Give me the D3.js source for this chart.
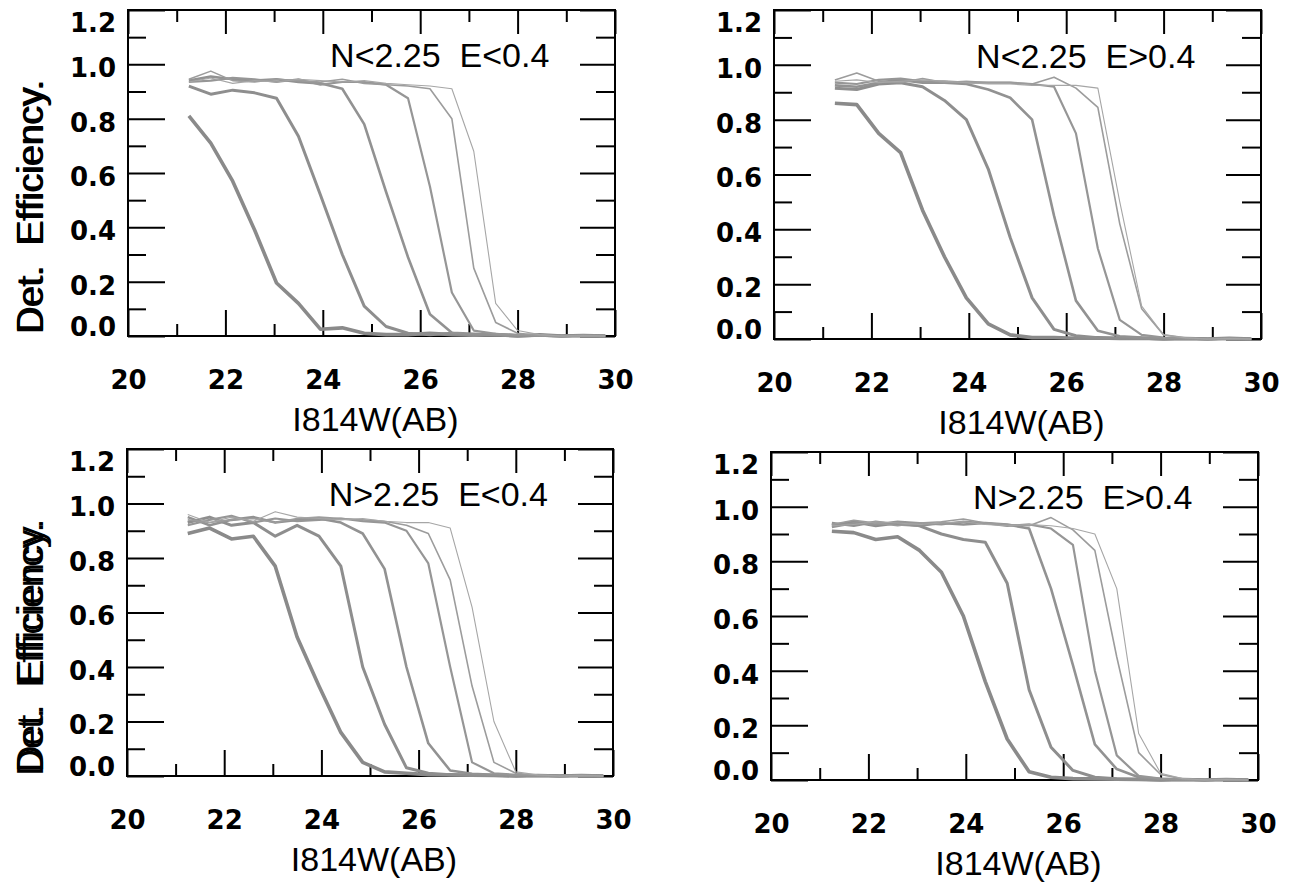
<!DOCTYPE html>
<html><head><meta charset="utf-8">
<script src="https://cdn.jsdelivr.net/npm/d3@7"></script>
<style>
body{margin:0;background:#fff;}
svg text{font-family:"Liberation Sans",Arial,Helvetica,sans-serif;fill:#000;}
.tick line{stroke:#000;stroke-width:2;}
.ticklab text{font-family:"DejaVu Sans",sans-serif;font-size:26px;font-weight:bold;}
.title{font-weight:normal;}
</style></head><body>
<svg id="chart" width="1293" height="884"></svg>
<script>
// ---------------- data ----------------
const magnitudes = [21.25, 21.7, 22.15, 22.6, 23.05, 23.5, 23.95, 24.4, 24.85, 25.3,
                    25.75, 26.2, 26.65, 27.1, 27.55, 28.0, 28.45, 28.9, 29.35, 29.8];
const panelTitles = ["N<2.25  E<0.4", "N<2.25  E>0.4", "N>2.25  E<0.4", "N>2.25  E>0.4"];
const xTickLabels = [20, 22, 24, 26, 28, 30];
const xMinorTicks = [21, 23, 25, 27, 29];
const yTickLabels = [0.0, 0.2, 0.4, 0.6, 0.8, 1.0, 1.2];
const yMinorTicks = [0.1, 0.3, 0.5, 0.7, 0.9, 1.1];
const xTitle = "I814W(AB)";
const yTitle = "Det.  Efficiency.";

// efficiency curves, one row per curve
const effNloEloA = [0.81,0.71,0.57,0.39,0.195,0.12,0.025,0.03,0.01,0.005,0.005,0.01,0.005,0.003,0.005,0.0,0.004,0.0,0.002,0.0];
const effNloEloB = [0.92,0.89,0.905,0.895,0.875,0.735,0.52,0.30,0.11,0.035,0.01,0.005,0.01,0.003,0.005,0.0,0.003,0.0,0.002,0.0];
const effNloEloC = [0.94,0.955,0.945,0.94,0.945,0.935,0.93,0.91,0.78,0.53,0.29,0.08,0.012,0.008,0.004,0.003,0.002,0.0,0.002,0.0];
const effNloEloD = [0.935,0.94,0.95,0.945,0.935,0.945,0.925,0.935,0.935,0.925,0.875,0.55,0.16,0.02,0.008,0.004,0.002,0.0,0.001,0.0];
const effNloEloE = [0.945,0.975,0.94,0.935,0.945,0.94,0.935,0.945,0.93,0.925,0.92,0.91,0.80,0.25,0.05,0.01,0.003,0.0,0.002,0.0];
const effNloEloF = [0.935,0.95,0.93,0.94,0.935,0.945,0.94,0.935,0.94,0.93,0.925,0.92,0.91,0.68,0.12,0.02,0.005,0.0,0.001,0.0];

const effNloEhiA = [0.86,0.855,0.75,0.68,0.47,0.30,0.15,0.055,0.015,0.005,0.005,0.003,0.004,0.002,0.003,0.0,0.002,0.0,0.003,0.0];
const effNloEhiB = [0.915,0.91,0.93,0.935,0.92,0.87,0.80,0.62,0.37,0.15,0.035,0.012,0.005,0.004,0.003,0.0,0.002,0.0,0.002,0.0];
const effNloEhiC = [0.925,0.92,0.935,0.945,0.935,0.935,0.93,0.91,0.88,0.80,0.45,0.14,0.03,0.01,0.005,0.003,0.002,0.0,0.002,0.0];
const effNloEhiD = [0.935,0.93,0.945,0.95,0.94,0.94,0.935,0.935,0.935,0.93,0.92,0.75,0.33,0.07,0.015,0.005,0.002,0.0,0.002,0.0];
const effNloEhiE = [0.945,0.97,0.94,0.935,0.95,0.935,0.94,0.935,0.935,0.93,0.955,0.915,0.845,0.42,0.11,0.015,0.004,0.0,0.002,0.0];
const effNloEhiF = [0.94,0.945,0.935,0.94,0.945,0.94,0.935,0.93,0.93,0.925,0.925,0.925,0.915,0.50,0.12,0.015,0.004,0.0,0.002,0.0];

const effNhiEloA = [0.89,0.91,0.87,0.88,0.77,0.51,0.33,0.16,0.05,0.015,0.01,0.005,0.004,0.003,0.002,0.0,0.002,0.0,0.002,0.0];
const effNhiEloB = [0.93,0.95,0.92,0.93,0.88,0.92,0.88,0.77,0.40,0.19,0.03,0.01,0.005,0.004,0.003,0.0,0.002,0.0,0.002,0.0];
const effNhiEloC = [0.95,0.92,0.94,0.95,0.93,0.94,0.945,0.93,0.89,0.76,0.40,0.12,0.02,0.008,0.004,0.003,0.002,0.0,0.002,0.0];
const effNhiEloD = [0.92,0.94,0.955,0.93,0.945,0.935,0.94,0.945,0.935,0.93,0.90,0.78,0.40,0.05,0.01,0.004,0.002,0.0,0.002,0.0];
const effNhiEloE = [0.94,0.93,0.94,0.945,0.93,0.945,0.95,0.945,0.94,0.935,0.92,0.89,0.72,0.33,0.05,0.01,0.003,0.0,0.002,0.0];
const effNhiEloF = [0.96,0.93,0.95,0.935,0.97,0.95,0.945,0.94,0.945,0.935,0.93,0.93,0.91,0.62,0.20,0.015,0.004,0.0,0.002,0.0];

const effNhiEhiA = [0.91,0.905,0.88,0.89,0.84,0.76,0.60,0.36,0.15,0.03,0.01,0.005,0.004,0.003,0.002,0.0,0.002,0.0,0.002,0.0];
const effNhiEhiB = [0.93,0.945,0.93,0.94,0.93,0.90,0.88,0.87,0.72,0.33,0.12,0.035,0.01,0.005,0.003,0.0,0.002,0.0,0.002,0.0];
const effNhiEhiC = [0.94,0.93,0.945,0.935,0.93,0.94,0.935,0.94,0.935,0.92,0.70,0.42,0.13,0.04,0.01,0.004,0.002,0.0,0.002,0.0];
const effNhiEhiD = [0.925,0.94,0.935,0.945,0.94,0.935,0.945,0.94,0.93,0.935,0.92,0.86,0.40,0.09,0.015,0.005,0.002,0.0,0.002,0.0];
const effNhiEhiE = [0.935,0.95,0.94,0.93,0.94,0.945,0.955,0.94,0.935,0.93,0.96,0.915,0.84,0.45,0.10,0.02,0.004,0.0,0.002,0.0];
const effNhiEhiF = [0.93,0.935,0.945,0.94,0.935,0.94,0.945,0.935,0.93,0.935,0.93,0.92,0.90,0.70,0.17,0.025,0.005,0.0,0.002,0.0];

const panelCurves = [
  [effNloEloA, effNloEloB, effNloEloC, effNloEloD, effNloEloE, effNloEloF],
  [effNloEhiA, effNloEhiB, effNloEhiC, effNloEhiD, effNloEhiE, effNloEhiF],
  [effNhiEloA, effNhiEloB, effNhiEloC, effNhiEloD, effNhiEloE, effNhiEloF],
  [effNhiEhiA, effNhiEhiB, effNhiEhiC, effNhiEhiD, effNhiEhiE, effNhiEhiF]
];

// ---------------- layout / style ----------------
const layout = [
  {left:128, top:10,  width:487, height:326},
  {left:774, top:10,  width:487, height:329},
  {left:127, top:449, width:486, height:327},
  {left:771, top:452, width:487, height:328}
];
const curveWidths = [3.6, 3.0, 2.6, 2.2, 1.6, 1.1];
const curveColors = ["#8a8a8a", "#8e8e8e", "#929292", "#969696", "#9c9c9c", "#a6a6a6"];

const svg = d3.select("#chart");

layout.forEach((L, pi) => {
  const g = svg.append("g").attr("transform", `translate(${L.left},${L.top})`);
  const x = d3.scaleLinear().domain([20, 30]).range([0, L.width]);
  const y = d3.scaleLinear().domain([0, 1.2]).range([L.height, 0]);

  g.append("g").attr("class", "ticklab").attr("transform", `translate(0,${L.height})`)
    .call(d3.axisBottom(x).tickValues(xTickLabels).tickSizeInner(-26).tickSizeOuter(0)
      .tickPadding(35).tickFormat(d3.format("d")))
    .call(a => a.select(".domain").remove());
  g.append("g").attr("transform", `translate(0,${L.height})`)
    .call(d3.axisBottom(x).tickValues(xMinorTicks).tickSizeInner(-12).tickSizeOuter(0).tickFormat(""))
    .call(a => a.select(".domain").remove());
  g.append("g")
    .call(d3.axisTop(x).tickValues(xTickLabels).tickSizeInner(-24).tickSizeOuter(0).tickFormat(""))
    .call(a => a.select(".domain").remove());
  g.append("g")
    .call(d3.axisTop(x).tickValues(xMinorTicks).tickSizeInner(-12).tickSizeOuter(0).tickFormat(""))
    .call(a => a.select(".domain").remove());
  const yl = g.append("g").attr("class", "ticklab")
    .call(d3.axisLeft(y).tickValues(yTickLabels).tickSizeInner(-37).tickSizeOuter(0)
      .tickPadding(12).tickFormat(d3.format(".1f")))
    .call(a => a.select(".domain").remove());
  yl.selectAll("text").attr("dy", (d) => d === 0 ? "-0.02em" : (d === 1.2 ? "0.83em" : "0.48em"));
  g.append("g")
    .call(d3.axisLeft(y).tickValues(yMinorTicks).tickSizeInner(-18).tickSizeOuter(0).tickFormat(""))
    .call(a => a.select(".domain").remove());
  g.append("g").attr("transform", `translate(${L.width},0)`)
    .call(d3.axisRight(y).tickValues(yTickLabels).tickSizeInner(-35).tickSizeOuter(0).tickFormat(""))
    .call(a => a.select(".domain").remove());
  g.append("g").attr("transform", `translate(${L.width},0)`)
    .call(d3.axisRight(y).tickValues(yMinorTicks).tickSizeInner(-19).tickSizeOuter(0).tickFormat(""))
    .call(a => a.select(".domain").remove());

  g.append("rect").attr("x", 0).attr("y", 0).attr("width", L.width).attr("height", L.height)
    .attr("fill", "none").attr("stroke", "#000").attr("stroke-width", 2);

  const line = d3.line().x(d => x(d[0])).y(d => y(d[1]));
  panelCurves[pi].forEach((vals, ci) => {
    const pts = magnitudes.map((m, i) => [m, vals[i]]);
    g.append("path").datum(pts).attr("d", line)
      .attr("fill", "none").attr("stroke", curveColors[ci])
      .attr("stroke-width", curveWidths[ci]).attr("stroke-linejoin", "round");
  });

  g.append("text").attr("class", "title").attr("x", x(24.15)).attr("y", y(0.99))
    .style("font-size", "34px").style("white-space", "pre").text(panelTitles[pi]);

  g.append("text").attr("class", "title").attr("x", L.width / 2 + 4).attr("y", L.height + 95)
    .attr("text-anchor", "middle").style("font-size", "34px").text(xTitle);
  g.append("text").attr("class", "title")
    .attr("transform", `translate(${-L.left + 43},${L.height / 2 + 33}) rotate(-90)`)
    .attr("text-anchor", "middle").style("font-size", "37px").style("white-space", "pre").text(yTitle);
});
</script>
</body></html>
